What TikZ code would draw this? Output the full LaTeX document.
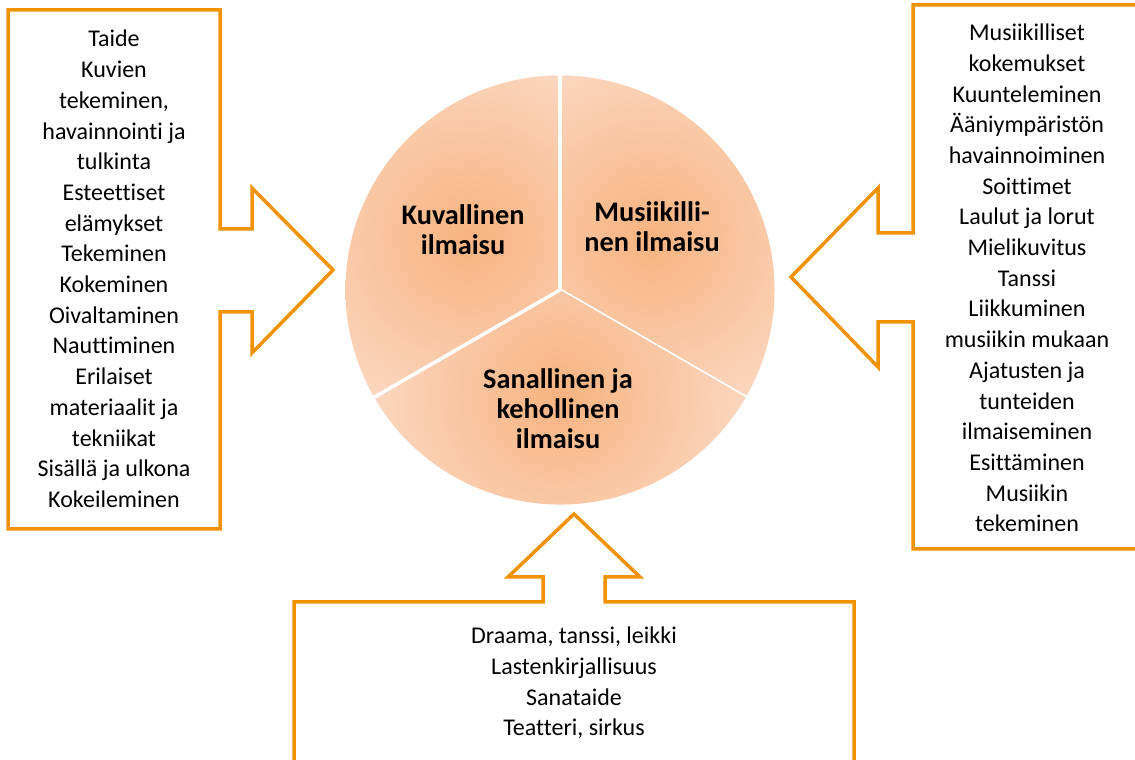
\documentclass[tikz,border=0pt]{standalone}
\usepackage{fontspec}
\setmainfont{Carlito}[Ligatures=NoCommon]
\definecolor{calloutorange}{RGB}{243,146,0}
\definecolor{petalin}{RGB}{247,179,128}
\definecolor{petalmid}{RGB}{249,197,160}
\definecolor{petalrim}{RGB}{252,222,204}
\definecolor{petalout}{RGB}{254,234,222}
\pgfdeclareradialshading{petal}{\pgfpoint{0bp}{0bp}}{color(0bp)=(petalin); color(13bp)=(petalmid); color(30bp)=(petalrim); color(50bp)=(petalout)}

\begin{document}
\begin{tikzpicture}[x=1pt,y=1pt,
                    callout/.style={draw=calloutorange,line width=3.5pt,line join=miter},
                    part/.style={font=\bfseries\fontsize{28.3}{30}\selectfont,align=center,inner sep=0pt},
                    list/.style={font=\fontsize{24}{30.7}\selectfont,align=center,inner sep=0pt}]
  \useasboundingbox (0,0) rectangle (1135,760);
  \coordinate (c) at (560,470);
  \foreach \s in {-30,90,210}{
    \begin{scope}
      \clip (c) -- ++(\s:214.5) arc[start angle=\s, delta angle=120, radius=214.5] -- cycle;
      \fill[petalout] (c) circle (214.5);
      \shade[shading=petal] ([shift={({\s+60}:105)}]c) circle (186);
    \end{scope}
    \draw[white,line width=3.5pt] (c) -- ++(\s:216);
  }
  \node[part] (kuva) at (463,530) {Kuvallinen\\ilmaisu};
  \node[part] (musa) at (652,533) {Musiikilli-\\nen ilmaisu};
  \node[part] (sana) at (558,351) {Sanallinen ja\\kehollinen\\ilmaisu};

  \draw[callout] (8,750) -- (220,750) -- (220,531) -- (252,531) -- (252,572) -- (333,490)
    -- (252,407) -- (252,448) -- (220,448) -- (220,231) -- (8,231) -- cycle;
  \draw[callout] (1141,755) -- (913,755) -- (913,527) -- (878,527) -- (878,572) -- (791,483)
    -- (878,393) -- (878,438) -- (913,438) -- (913,211) -- (1141,211) -- cycle;
  \draw[callout] (294,-4) -- (294,158) -- (543,158) -- (543,183) -- (508,183) -- (574,246)
    -- (640,183) -- (605,183) -- (605,158) -- (854,158) -- (854,-4) -- cycle;

  \node[list] (kuvalista) at (114,491) {Taide\\Kuvien\\tekeminen,\\havainnointi ja\\tulkinta\\Esteettiset\\elämykset\\Tekeminen\\Kokeminen\\Oivaltaminen\\Nauttiminen\\Erilaiset\\materiaalit ja\\tekniikat\\Sisällä ja ulkona\\Kokeileminen};
  \node[list] (musalista) at (1027,482) {Musiikilliset\\kokemukset\\Kuunteleminen\\Ääniympäristön\\havainnoiminen\\Soittimet\\Laulut ja lorut\\Mielikuvitus\\Tanssi\\Liikkuminen\\musiikin mukaan\\Ajatusten ja\\tunteiden\\ilmaiseminen\\Esittäminen\\Musiikin\\tekeminen};
  \node[list] (sanalista) at (574,77) {Draama, tanssi, leikki\\Lastenkirjallisuus\\Sanataide\\Teatteri, sirkus};
\end{tikzpicture}
\end{document}
